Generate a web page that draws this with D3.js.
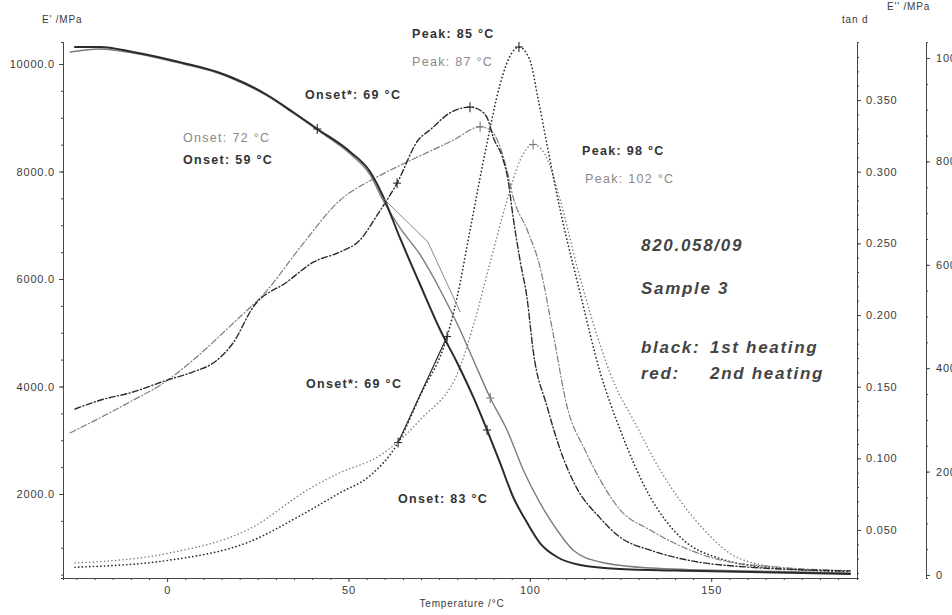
<!DOCTYPE html>
<html>
<head>
<meta charset="utf-8">
<script src="https://cdn.jsdelivr.net/npm/d3@7"></script>
<style>
  body { margin: 0; background: #fff; }
  svg { display: block; }
  text { font-family: "Liberation Sans", Arial, sans-serif; }
</style>
</head>
<body>
<svg id="dma"></svg>
<script>
// temperatures /°C and values
// E' storage modulus /MPa (left axis)
const tempE1 = [-25.4, -18.5, -9.4, 4.4, 13.8, 18.2, 27.6, 34.7, 41.4, 50.5, 56, 59.5, 64.2, 69.8, 75.3, 80, 84.4, 88.2, 91.8, 95.4, 99.3, 102.8, 107.5, 113.9, 124.9, 147, 188.3]
const storage1 = [10316, 10316, 10223, 10019, 9851, 9740, 9423, 9107, 8791, 8363, 7991, 7544, 6763, 5888, 5051, 4437, 3805, 3191, 2577, 1944, 1460, 1088, 828, 679, 605, 567, 512]
const tempE2 = [-26.7, -18.5, -9.4, 4.4, 13.8, 18.2, 27.6, 34.7, 41.4, 50.5, 56, 59.5, 64.2, 69.8, 75.3, 80.8, 84.9, 89.1, 93.7, 98.2, 102.8, 107.5, 111.9, 119.4, 133.2, 160.7, 188.3]
const storage2 = [10223, 10279, 10205, 10000, 9833, 9721, 9405, 9088, 8772, 8326, 7935, 7470, 6949, 6447, 5795, 5051, 4419, 3786, 3191, 2447, 1833, 1330, 958, 735, 623, 567, 530]

// E'' loss modulus /MPa (outer right axis)
const tempL1 = [-25.4, -18.5, -9.4, 0, 7.2, 12.7, 18.2, 23.7, 33.1, 40.3, 47.7, 53.2, 57.9, 63.4, 69.2, 72.5, 78, 83.5, 86.3, 88.5, 89.9, 92.4, 94, 95.4, 97.3, 99.3, 100.9, 104.8, 108.4, 112.5, 119.4, 124.9, 133.2, 143.4, 160.7, 188.3]
const loss1 = [321, 338, 354, 377, 393, 410, 449, 518, 567, 605, 625, 648, 696, 758, 841, 861, 894, 905, 899, 880, 847, 809, 764, 692, 609, 532, 435, 325, 242, 174, 110, 73, 48, 29, 15, 8]
const tempL2 = [-26.7, -18.5, -9.4, -1.9, 7.2, 18.2, 27.6, 36.7, 47.7, 57.9, 66.2, 78.9, 86.3, 89.1, 91.8, 93.7, 95.4, 99.3, 102.8, 106.4, 110.3, 115.2, 119.4, 124.9, 133.2, 144.2, 152.5, 169, 188.3]
const loss2 = [275, 304, 338, 367, 416, 487, 551, 634, 725, 770, 799, 841, 867, 861, 828, 783, 731, 667, 596, 468, 325, 242, 184, 126, 87, 48, 29, 15, 8]

// tan d (inner right axis)
const tempD1 = [-25.4, 0.8, 22.9, 36.7, 47.7, 56, 63.7, 69.8, 77.2, 80, 83.5, 88.2, 91.8, 94.6, 97, 100, 102.2, 104.8, 108.4, 113.9, 119.4, 124.9, 133.2, 141.5, 152.5, 169, 188.3]
const tanD1 = [0.024, 0.029, 0.042, 0.060, 0.076, 0.088, 0.111, 0.144, 0.185, 0.213, 0.259, 0.320, 0.361, 0.381, 0.387, 0.378, 0.352, 0.318, 0.273, 0.215, 0.160, 0.120, 0.073, 0.045, 0.030, 0.023, 0.021]
const tempD2 = [-25.4, 0.8, 22.9, 39.4, 47.7, 58.7, 69.8, 80.8, 84.9, 89.1, 93.7, 97.3, 100.9, 104.2, 108.4, 113, 118, 123.5, 128.5, 135.9, 147, 157.9, 171.8, 188.3]
const tanD2 = [0.027, 0.034, 0.051, 0.079, 0.090, 0.102, 0.127, 0.164, 0.197, 0.237, 0.280, 0.308, 0.319, 0.312, 0.280, 0.234, 0.190, 0.151, 0.127, 0.092, 0.053, 0.030, 0.023, 0.021]

// onset tangent constructions
const tangentT = [59.2, 71.9, 80.8]
const tangentE = [7526, 6688, 5386]
const onsetT = [63.7, 77.2]
const onsetD = [0.111, 0.185]

// "+" markers, given as temperatures that are in the series above
const markE1 = [41.4, 88.2]
const markE2 = [89.1]
const markL1 = [63.4, 83.5]
const markL2 = [86.3]
const markD1 = [63.7, 77.2, 97]
const markD2 = [100.9]

// axis ticks
const tempTicks = [0, 50, 100, 150]
const storageTicks = [2000, 4000, 6000, 8000, 10000]
const tanDTicks = [0.05, 0.1, 0.15, 0.2, 0.25, 0.3, 0.35]
const lossTicks = [0, 200, 400, 600, 800, 1000]

// annotations: [text, x, y, dark?]
const notes = [
  ["Peak: 85 °C", 412, 38, true],
  ["Peak: 87 °C", 412, 66, false],
  ["Onset*: 69 °C", 305, 99, true],
  ["Onset: 72 °C", 183, 142, false],
  ["Onset: 59 °C", 183, 164, true],
  ["Peak: 98 °C", 582, 155, true],
  ["Peak: 102 °C", 585, 183, false],
  ["Onset*: 69 °C", 306, 388, true],
  ["Onset: 83 °C", 398, 503, true]
]

let svgWidth = 952, svgHeight = 615
let plot = {left: 63, right: 857, top: 42, bottom: 578}
let lossAxisX = 926
let dark = "#2b2b2b", light = "#7c7c7c"

let svg = d3.select("#dma")
    .attr("width", svgWidth)
    .attr("height", svgHeight)

let x = d3.scaleLinear().domain([-28.7, 190.2]).range([plot.left, plot.right])
let yE = d3.scaleLinear().domain([437, 10409]).range([plot.bottom, plot.top])
let yD = d3.scaleLinear().domain([0.0165, 0.3905]).range([plot.bottom, plot.top])
let yL = d3.scaleLinear().domain([-5.8, 1031]).range([plot.bottom, plot.top])

function styleAxis(g) {
    g.selectAll("path.domain").attr("stroke", "#444").attr("stroke-width", 1)
    g.selectAll("line").attr("stroke", "#444")
    g.selectAll("text")
        .attr("fill", "#3a3a3a")
        .style("font-size", "11px")
        .style("letter-spacing", "0.8px")
        .style("font-family", "'Liberation Sans', Arial, sans-serif")
}

// minor ticks first, then major axes over them
svg.append("g")
    .attr("transform", `translate(${plot.left},0)`)
    .call(d3.axisLeft(yE).tickValues(d3.range(500, 10401, 500)).tickSize(2).tickFormat(""))
    .call(styleAxis)
svg.append("g")
    .attr("transform", `translate(${plot.right},0)`)
    .call(d3.axisRight(yD).tickValues(d3.range(0.02, 0.39, 0.01)).tickSize(2).tickFormat(""))
    .call(styleAxis)
svg.append("g")
    .attr("transform", `translate(${lossAxisX},0)`)
    .call(d3.axisRight(yL).tickValues(d3.range(0, 1031, 50)).tickSize(2).tickFormat(""))
    .call(styleAxis)
svg.append("g")
    .attr("transform", `translate(0,${plot.bottom})`)
    .call(d3.axisBottom(x).tickValues(d3.range(-25, 190, 5)).tickSize(2).tickFormat(""))
    .call(styleAxis)

svg.append("g") // E' axis
    .attr("transform", `translate(${plot.left},0)`)
    .call(d3.axisLeft(yE).tickValues(storageTicks).tickFormat(d3.format(".1f")).tickSize(4).tickPadding(4).tickSizeOuter(0))
    .call(styleAxis)

svg.append("g") // temperature axis
    .attr("transform", `translate(0,${plot.bottom})`)
    .call(d3.axisBottom(x).tickValues(tempTicks).tickSize(4).tickPadding(4).tickSizeOuter(0))
    .call(styleAxis)

svg.append("g") // tan d axis
    .attr("transform", `translate(${plot.right},0)`)
    .call(d3.axisRight(yD).tickValues(tanDTicks).tickFormat(d3.format(".3f")).tickSize(4).tickPadding(5).tickSizeOuter(0))
    .call(styleAxis)

svg.append("g") // E'' axis, labels run off the page edge as in the scan
    .attr("transform", `translate(${lossAxisX},0)`)
    .call(d3.axisRight(yL).tickValues(lossTicks).tickFormat(d3.format("d")).tickSize(4).tickPadding(6).tickSizeOuter(0))
    .call(styleAxis)

// axis titles
let titleStyle = sel => sel.attr("fill", "#3a3a3a").style("font-size", "10px").style("letter-spacing", "0.8px")
svg.append("text").attr("x", 42).attr("y", 23).text("E' /MPa").call(titleStyle)
svg.append("text").attr("x", 842).attr("y", 23).text("tan d").call(titleStyle)
svg.append("text").attr("x", 887).attr("y", 10).text("E'' /MPa").call(titleStyle)
svg.append("text").attr("x", 462).attr("y", 607).attr("text-anchor", "middle")
    .text("Temperature /°C").call(titleStyle)

// curves
function drawSeries(temps, vals, yScale, color, width, dash) {
    let pts = temps.map((t, i) => [t, vals[i]])
    svg.append("path")
        .datum(pts)
        .attr("fill", "none")
        .attr("stroke", color)
        .attr("stroke-width", width)
        .attr("stroke-dasharray", dash)
        .attr("stroke-linecap", "round")
        .attr("d", d3.line().x(d => x(d[0])).y(d => yScale(d[1])).curve(d3.curveMonotoneX))
}

function drawMarks(temps, vals, marks, yScale, color) {
    let pts = marks.map(m => [m, vals[temps.indexOf(m)]])
    let g = svg.append("g").attr("stroke", color).attr("stroke-width", 1.1)
    pts.forEach(p => {
        let cx = x(p[0]), cy = yScale(p[1])
        g.append("line").attr("x1", cx - 4).attr("x2", cx + 4).attr("y1", cy).attr("y2", cy)
        g.append("line").attr("x1", cx).attr("x2", cx).attr("y1", cy - 5).attr("y2", cy + 5)
    })
}

drawSeries(tempD2, tanD2, yD, light, 1.5, "0.1,3.6")
drawSeries(tempD1, tanD1, yD, dark, 1.7, "0.1,3.6")
drawSeries(tempL2, loss2, yL, light, 1.2, "6,2.5,1,2.5")
drawSeries(tempL1, loss1, yL, dark, 1.4, "6,2.5,1,2.5")
drawSeries(tempE2, storage2, yE, light, 1.4, null)
drawSeries(tempE1, storage1, yE, dark, 2, null)

// tangent constructions
svg.append("path")
    .datum(tangentT.map((t, i) => [t, tangentE[i]]))
    .attr("fill", "none").attr("stroke", light).attr("stroke-width", 0.9)
    .attr("d", d3.line().x(d => x(d[0])).y(d => yE(d[1])))
svg.append("path")
    .datum(onsetT.map((t, i) => [t, onsetD[i]]))
    .attr("fill", "none").attr("stroke", dark).attr("stroke-width", 1.2)
    .attr("d", d3.line().x(d => x(d[0])).y(d => yD(d[1])))

drawMarks(tempE1, storage1, markE1, yE, dark)
drawMarks(tempE2, storage2, markE2, yE, light)
drawMarks(tempL1, loss1, markL1, yL, dark)
drawMarks(tempL2, loss2, markL2, yL, light)
drawMarks(tempD1, tanD1, markD1, yD, dark)
drawMarks(tempD2, tanD2, markD2, yD, light)

// peak / onset labels
svg.selectAll("text.note")
    .data(notes)
    .enter()
    .append("text")
    .attr("class", "note")
    .attr("x", d => d[1])
    .attr("y", d => d[2])
    .attr("fill", d => d[3] ? "#333" : "#888")
    .style("font-weight", d => d[3] ? "bold" : "normal")
    .style("font-size", "12.5px")
    .style("letter-spacing", "1.3px")
    .text(d => d[0])

// sample info block
let info = svg.append("g")
    .attr("fill", "#444")
    .style("font-style", "italic")
    .style("font-weight", "bold")
    .style("font-size", "17px")
    .style("letter-spacing", "1.7px")
info.append("text").attr("x", 641).attr("y", 251).text("820.058/09")
info.append("text").attr("x", 641).attr("y", 294).text("Sample 3")
info.append("text").attr("x", 641).attr("y", 353).text("black:")
info.append("text").attr("x", 710).attr("y", 353).text("1st heating")
info.append("text").attr("x", 641).attr("y", 379).text("red:")
info.append("text").attr("x", 710).attr("y", 379).text("2nd heating")
</script>
</body>
</html>
